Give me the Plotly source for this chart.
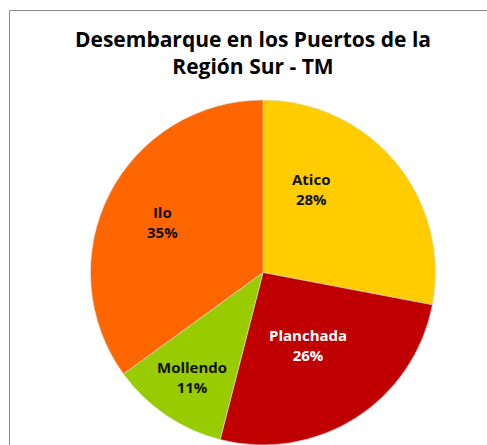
import math
import plotly.graph_objects as go

labels = ["Atico", "Planchada", "Mollendo", "Ilo"]
values = [28, 26, 11, 35]
colors = ["#FFCC00", "#C00000", "#99CC00", "#FF6600"]
text_colors = ["#111111", "#FFFFFF", "#111111", "#111111"]
# label placement style: fraction of radius, angular shift (deg)
label_radius = [0.56, 0.49, 0.73, 0.65]
label_shift = [-21, 0, 0, 0]

W, H = 487, 445
cx_px, cy_px, R_px = 263, 273, 173

fig = go.Figure(go.Pie(
    labels=labels,
    values=values,
    sort=False,
    direction="clockwise",
    rotation=0,
    marker=dict(colors=colors, line=dict(color="#dddddd", width=0.6)),
    textinfo="none",
    showlegend=False,
    hoverinfo="label+percent",
    domain=dict(x=[(cx_px - R_px) / W, (cx_px + R_px) / W],
                y=[0, 1 - (cy_px - R_px) / H]),
))

total = sum(values)
annotations = []
cum = 0
for lab, v, col, rf, sh in zip(labels, values, text_colors, label_radius, label_shift):
    mid = (cum + v / 2) / total * 360 + sh
    cum += v
    x_px = cx_px + rf * R_px * math.sin(math.radians(mid))
    y_px = cy_px - rf * R_px * math.cos(math.radians(mid))
    annotations.append(dict(
        x=x_px / W, y=1 - y_px / H, xref="paper", yref="paper",
        text=f"<b>{lab}</b><br><b>{round(v / total * 100)}%</b>",
        showarrow=False, xanchor="center", yanchor="middle",
        font=dict(family="Open Sans", size=15, color=col),
    ))

fig.update_layout(
    width=W, height=H,
    margin=dict(l=0, r=0, t=0, b=0),
    paper_bgcolor="white",
    title=dict(
        text="<b>Desembarque en los Puertos de la<br>Región Sur - TM</b>",
        x=253 / W, xanchor="center",
        y=1 - 47 / H, yanchor="middle",
        font=dict(family="Open Sans", size=21, color="#000000"),
    ),
    annotations=annotations,
    shapes=[
        dict(type="line", xref="paper", yref="paper",
             x0=9.5 / W, x1=9.5 / W, y0=0, y1=1 - 10.5 / H,
             line=dict(color="#8c8c8c", width=1)),
        dict(type="line", xref="paper", yref="paper",
             x0=9.5 / W, x1=1, y0=1 - 10.5 / H, y1=1 - 10.5 / H,
             line=dict(color="#8c8c8c", width=1)),
    ],
)

fig.write_html("out.html", config={"displayModeBar": False},
               post_script="document.body.style.margin='0';")
